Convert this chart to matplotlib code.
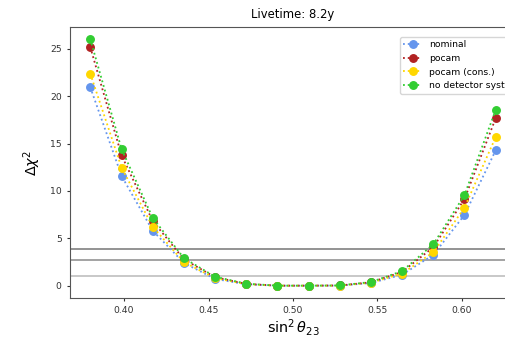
import numpy as np
import matplotlib
matplotlib.use("Agg")
import matplotlib.pyplot as plt

sin2_theta23 = [0.38, 0.3985, 0.4169, 0.4354, 0.4538, 0.4723, 0.4908,
                0.5092, 0.5277, 0.5462, 0.5646, 0.5831, 0.6015, 0.62]

nominal = [20.96, 11.6, 5.82, 2.40, 0.72, 0.14, 0.0, 0.0, 0.01, 0.28, 1.16, 3.26, 7.47, 14.3]
pocam = [25.2, 13.77, 6.85, 2.78, 0.90, 0.19, 0.0, 0.0, 0.02, 0.36, 1.45, 4.07, 9.15, 17.7]
pocam_cons = [22.4, 12.48, 6.24, 2.49, 0.80, 0.15, 0.0, 0.0, 0.01, 0.31, 1.28, 3.54, 8.24, 15.7]
no_det_syst = [26.05, 14.44, 7.18, 2.91, 0.95, 0.21, 0.0, 0.0, 0.02, 0.39, 1.54, 4.38, 9.57, 18.58]

series_labels = ["nominal", "pocam", "pocam (cons.)", "no detector systematics"]
series_values = [nominal, pocam, pocam_cons, no_det_syst]
series_colors = ["#6495ED", "#B22222", "#FFD700", "#32CD32"]

conf_levels = [3.84, 2.71, 1.0]
conf_colors = ["#8a8a8a", "#9c9c9c", "#c4c4c4"]

title = "Livetime: 8.2y"

fig = plt.figure(figsize=(5.05, 3.39), dpi=100)
ax = fig.add_axes([70 / 505, 1 - 298 / 339, (516 - 70) / 505, (298 - 26.7) / 339])

for lab, vals, col in zip(series_labels, series_values, series_colors):
    ax.plot(sin2_theta23, vals, linestyle=":", marker="o", color=col,
            markersize=5.4, linewidth=1.3, label=lab)

for lvl, col in zip(conf_levels, conf_colors):
    ax.axhline(lvl, color=col, linewidth=1.3, zorder=0)

ax.set_xticks([0.40, 0.45, 0.50, 0.55, 0.60])
ax.set_yticks([0, 5, 10, 15, 20, 25])
ax.tick_params(labelsize=6.7, length=2.5, colors="#333333")
for s in ax.spines.values():
    s.set_color("#555555")

ax.set_xlabel(r"$\sin^2\theta_{23}$", fontsize=10.4, labelpad=1.5)
ax.set_ylabel(r"$\Delta\chi^2$", fontsize=10.4, labelpad=5)
ax.set_title(title, fontsize=8.4)

leg = ax.legend(loc="upper left", bbox_to_anchor=(395 / 505, 1 - 32 / 339),
                bbox_transform=fig.transFigure, fontsize=6.7,
                handlelength=2.0, framealpha=0.8)

fig.savefig("out.png", dpi=100)
